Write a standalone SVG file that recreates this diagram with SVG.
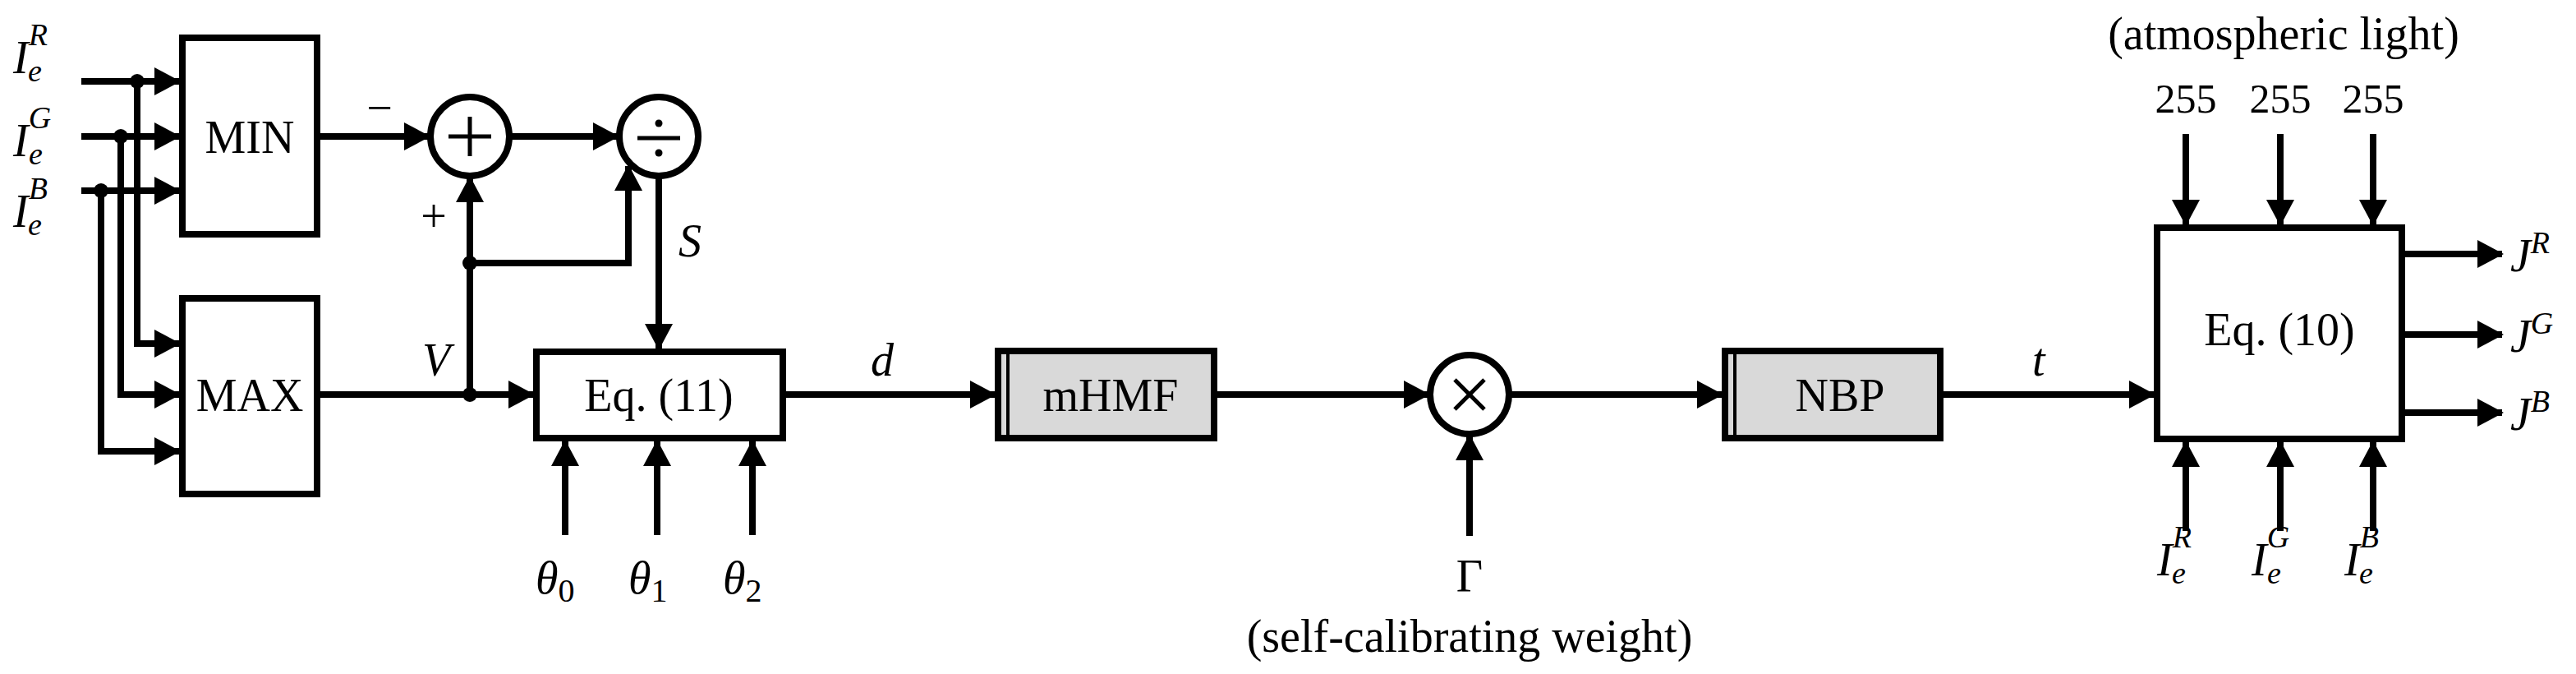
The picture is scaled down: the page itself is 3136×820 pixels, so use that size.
<svg xmlns="http://www.w3.org/2000/svg" width="3136" height="820" viewBox="0 0 3136 820">
<style>
.box{fill:#fff;stroke:#000;stroke-width:8}
.gray{fill:#d9d9d9;stroke:#000;stroke-width:8}
.ln{fill:none;stroke:#000;stroke-width:8}
.arr{fill:none;stroke:#000;stroke-width:8;marker-end:url(#ah)}
.thin{stroke:#000;stroke-width:5}
.t{font-family:"Liberation Serif",serif;font-size:56px;text-anchor:middle}
.m{font-family:"Liberation Serif",serif;font-style:italic;font-size:56px}
.n{font-family:"Liberation Serif",serif;font-size:50px;text-anchor:middle}
</style>
<defs>
<marker id="ah" markerUnits="userSpaceOnUse" markerWidth="32" markerHeight="34" refX="30" refY="17" orient="auto">
<path d="M0,0 L32,17 L0,34 z" fill="#000"/>
</marker>
</defs>
<g id="connectors">
<path class="arr" d="M99,99 H218"/>
<path class="arr" d="M99,166 H218"/>
<path class="arr" d="M99,232 H218"/>
<path class="arr" d="M167,99 V418 H218"/>
<path class="arr" d="M147,166 V480 H218"/>
<path class="arr" d="M123,232 V549 H218"/>
<circle cx="167" cy="99" r="9"/>
<circle cx="147" cy="166" r="9"/>
<circle cx="123" cy="232" r="9"/>
<path class="arr" d="M390,166 H522"/>
<path class="arr" d="M622,166 H752"/>
<path class="arr" d="M390,480 H649"/>
<circle cx="572" cy="480" r="9"/>
<path class="arr" d="M572,480 V216"/>
<circle cx="572" cy="320" r="9"/>
<path class="arr" d="M572,320 H765 V202"/>
<path class="arr" d="M802,216 V424"/>
<path class="arr" d="M688,651 V537"/>
<path class="arr" d="M800,651 V537"/>
<path class="arr" d="M916,651 V537"/>
<path class="arr" d="M957,480 H1211"/>
<path class="arr" d="M1482,480 H1739"/>
<path class="arr" d="M1789,652 V530"/>
<path class="arr" d="M1839,480 H2096"/>
<path class="arr" d="M2366,480 H2622"/>
<path class="arr" d="M2661,163 V273"/>
<path class="arr" d="M2776,163 V273"/>
<path class="arr" d="M2889,163 V273"/>
<path class="arr" d="M2661,646 V538"/>
<path class="arr" d="M2776,646 V538"/>
<path class="arr" d="M2889,646 V538"/>
<path class="arr" d="M2928,309 H3046"/>
<path class="arr" d="M2928,407 H3046"/>
<path class="arr" d="M2928,502 H3046"/>
</g>
<g id="inputs">
<text class="m" x="16" y="89">I<tspan font-size="38" dy="-34">R</tspan><tspan font-size="38" dx="-24" dy="44">e</tspan></text>
<text class="m" x="16" y="190">I<tspan font-size="38" dy="-34">G</tspan><tspan font-size="38" dx="-27" dy="44">e</tspan></text>
<text class="m" x="16" y="276">I<tspan font-size="38" dy="-34">B</tspan><tspan font-size="38" dx="-24" dy="44">e</tspan></text>
</g>
<g id="min"><rect class="box" x="222" y="46" width="164" height="239"/><text class="t" x="304" y="186">MIN</text></g>
<g id="max"><rect class="box" x="222" y="363" width="164" height="238"/><text class="t" x="304" y="500">MAX</text></g>
<g id="sum">
<circle class="box" cx="572" cy="166" r="48"/>
<line class="thin" x1="546" y1="166" x2="598" y2="166"/><line class="thin" x1="572" y1="142" x2="572" y2="190"/>
<text class="t" x="462" y="150">−</text><text class="t" x="528" y="282">+</text>
</g>
<g id="div">
<circle class="box" cx="802" cy="166" r="48"/>
<line class="thin" x1="776" y1="168" x2="828" y2="168"/>
<circle cx="802" cy="150" r="4.5"/><circle cx="802" cy="186" r="4.5"/>
</g>
<g id="labels1">
<text class="m" x="826" y="312">S</text>
<text class="m" x="514" y="457">V</text>
<text class="m" x="1060" y="457">d</text>
<text class="m" x="2474" y="457">t</text>
</g>
<g id="eq11"><rect class="box" x="653" y="428" width="300" height="105"/><text class="t" x="802" y="500">Eq. (11)</text></g>
<g id="thetas">
<text class="m" x="652" y="722">θ<tspan font-style="normal" font-size="40" dy="10">0</tspan></text>
<text class="m" x="765" y="722">θ<tspan font-style="normal" font-size="40" dy="10">1</tspan></text>
<text class="m" x="880" y="722">θ<tspan font-style="normal" font-size="40" dy="10">2</tspan></text>
</g>
<g id="mhmf"><rect class="gray" x="1215" y="427" width="263" height="106"/><line stroke="#000" stroke-width="4" x1="1227" y1="427" x2="1227" y2="533"/><text class="t" x="1352" y="500">mHMF</text></g>
<g id="mult">
<circle class="box" cx="1789" cy="480" r="48"/>
<line class="thin" x1="1771" y1="462" x2="1807" y2="498"/><line class="thin" x1="1807" y1="462" x2="1771" y2="498"/>
<text class="t" x="1789" y="720">Γ</text>
<text class="t" x="1789" y="793">(self-calibrating weight)</text>
</g>
<g id="nbp"><rect class="gray" x="2100" y="427" width="262" height="106"/><line stroke="#000" stroke-width="4" x1="2112" y1="427" x2="2112" y2="533"/><text class="t" x="2240" y="500">NBP</text></g>
<g id="eq10">
<rect class="box" x="2626" y="277" width="298" height="257"/><text class="t" x="2775" y="420">Eq. (10)</text>
<text class="t" x="2780" y="60">(atmospheric light)</text>
<text class="n" x="2661" y="137">255</text><text class="n" x="2776" y="137">255</text><text class="n" x="2889" y="137">255</text>
<text class="m" x="3056" y="330">J<tspan font-size="38" dy="-22">R</tspan></text>
<text class="m" x="3056" y="428">J<tspan font-size="38" dy="-22">G</tspan></text>
<text class="m" x="3056" y="523">J<tspan font-size="38" dy="-22">B</tspan></text>
<text class="m" x="2626" y="700">I<tspan font-size="38" dy="-34">R</tspan><tspan font-size="38" dx="-24" dy="44">e</tspan></text>
<text class="m" x="2741" y="700">I<tspan font-size="38" dy="-34">G</tspan><tspan font-size="38" dx="-27" dy="44">e</tspan></text>
<text class="m" x="2854" y="700">I<tspan font-size="38" dy="-34">B</tspan><tspan font-size="38" dx="-24" dy="44">e</tspan></text>
</g>
</svg>
